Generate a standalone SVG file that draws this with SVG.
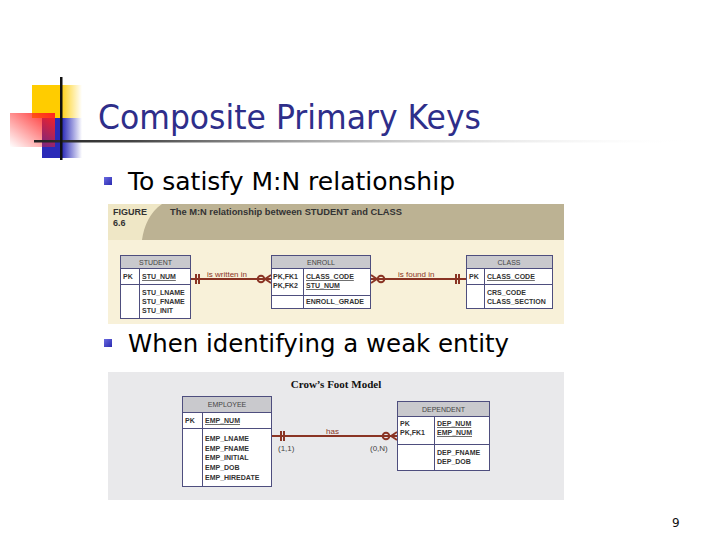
<svg xmlns="http://www.w3.org/2000/svg" width="720" height="540" viewBox="0 0 720 540">
<defs>
  <linearGradient id="gYel" x1="0" y1="0" x2="1" y2="0">
    <stop offset="0" stop-color="#ffcc00"/><stop offset="0.55" stop-color="#ffcc00"/><stop offset="1" stop-color="#ffcc00" stop-opacity="0"/>
  </linearGradient>
  <linearGradient id="gRed" x1="1" y1="0" x2="0" y2="1">
    <stop offset="0" stop-color="#ff2020"/><stop offset="1" stop-color="#ff2020" stop-opacity="0"/>
  </linearGradient>
  <linearGradient id="gBlue" x1="0" y1="0" x2="1" y2="0">
    <stop offset="0" stop-color="#2a2ab8"/><stop offset="0.5" stop-color="#2a2ab8"/><stop offset="1" stop-color="#2a2ab8" stop-opacity="0"/>
  </linearGradient>
  <linearGradient id="gLine" x1="0" y1="0" x2="1" y2="0">
    <stop offset="0" stop-color="#222"/><stop offset="0.15" stop-color="#444"/><stop offset="1" stop-color="#fff" stop-opacity="0"/>
  </linearGradient>
  <linearGradient id="gBul" x1="0" y1="0" x2="1" y2="1">
    <stop offset="0" stop-color="#6a6ae0"/><stop offset="1" stop-color="#2a2ab0"/>
  </linearGradient>
</defs>
<style>
  .title{font-family:"DejaVu Sans",sans-serif;font-size:33px;fill:#2e2e8a}
  .bul{font-family:"DejaVu Sans",sans-serif;font-size:25px;fill:#000}
  .tbl{fill:#fff;stroke:#4e4e7e;stroke-width:1}
  .hdr{fill:#c9c9cd;stroke:#4e4e7e;stroke-width:1}
  .sep{stroke:#4e4e7e;stroke-width:1}
  .t{font-family:"Liberation Sans",Arial,sans-serif;font-size:7px;fill:#333;font-weight:bold}
  .th{font-family:"Liberation Sans",Arial,sans-serif;font-size:7px;fill:#444}
  .rel{stroke:#8a3424;stroke-width:2;fill:none}
  .rl{font-family:"Liberation Sans",Arial,sans-serif;font-size:8px;fill:#8a3424}
  .card{font-family:"Liberation Sans",Arial,sans-serif;font-size:8px;fill:#444}
  .fig{font-family:"Liberation Sans",Arial,sans-serif;font-size:9px;fill:#333;font-weight:bold}
</style>
<rect width="720" height="540" fill="#fff"/>

<g id="title-deco">
  <rect x="32" y="85" width="50" height="33" fill="url(#gYel)"/>
  <rect x="42" y="118" width="40" height="40" fill="url(#gBlue)"/>
  <rect x="10" y="113" width="45" height="34" fill="url(#gRed)"/>
  <rect x="34" y="140" width="660" height="2.5" fill="url(#gLine)"/>
  <rect x="60" y="77" width="2.5" height="83" fill="#111"/>
</g>
<text class="title" x="98" y="129" textLength="383" lengthAdjust="spacingAndGlyphs">Composite Primary Keys</text>

<rect x="104" y="177" width="8" height="8" fill="url(#gBul)"/>
<text class="bul" x="128" y="190" textLength="327" lengthAdjust="spacingAndGlyphs">To satisfy M:N relationship</text>
<rect x="104" y="339" width="8" height="8" fill="url(#gBul)"/>
<text class="bul" x="128" y="352" textLength="381" lengthAdjust="spacingAndGlyphs">When identifying a weak entity</text>

<g id="figure1">
  <rect x="108" y="204" width="456" height="120" fill="#f8f1d9"/>
  <rect x="108" y="204" width="456" height="36" fill="#bcb293"/>
  <path d="M108,204 H162 C150,212 144,226 142,240 H108 Z" fill="#efe7c6"/>
  <text class="fig" x="113" y="215">FIGURE</text>
  <text class="fig" x="113" y="226">6.6</text>
  <text class="fig" x="170" y="215" textLength="232" lengthAdjust="spacingAndGlyphs">The M:N relationship between STUDENT and CLASS</text>
</g>

<g id="figure2-bg">
  <rect x="108" y="372" width="456" height="128" fill="#e9e9eb"/>
  <text x="336" y="388" text-anchor="middle" font-family="Liberation Serif,serif" font-size="11" font-weight="bold" fill="#111">Crow’s Foot Model</text>
</g>

<g id="connectors">
  <line class="rel" x1="190" y1="279" x2="271" y2="279"/>
  <line class="rel" x1="196" y1="274" x2="196" y2="284" stroke-width="1.5"/>
  <line class="rel" x1="199" y1="274" x2="199" y2="284" stroke-width="1.5"/>
  <circle class="rel" cx="261" cy="279" r="3.3" fill="#f8f1d9" stroke-width="1.5"/>
  <path class="rel" d="M265,279 L271,275 M265,279 L271,283" stroke-width="1.5"/>
  <text class="rl" x="207" y="277">is written in</text>

  <line class="rel" x1="371" y1="279" x2="466" y2="279"/>
  <path class="rel" d="M377,279 L371,275 M377,279 L371,283" stroke-width="1.5"/>
  <circle class="rel" cx="381" cy="279" r="3.3" fill="#f8f1d9" stroke-width="1.5"/>
  <line class="rel" x1="456" y1="274" x2="456" y2="284" stroke-width="1.5"/>
  <line class="rel" x1="459" y1="274" x2="459" y2="284" stroke-width="1.5"/>
  <text class="rl" x="398" y="277">is found in</text>

  <line class="rel" x1="271" y1="436" x2="397" y2="436"/>
  <line class="rel" x1="281" y1="431" x2="281" y2="441" stroke-width="1.5"/>
  <line class="rel" x1="284" y1="431" x2="284" y2="441" stroke-width="1.5"/>
  <circle class="rel" cx="386" cy="436" r="3.3" fill="#e9e9eb" stroke-width="1.5"/>
  <path class="rel" d="M391,436 L397,432 M391,436 L397,440" stroke-width="1.5"/>
  <text class="rl" x="326" y="434">has</text>
  <text class="card" x="278" y="451">(1,1)</text>
  <text class="card" x="370" y="451">(0,N)</text>
</g>

<g id="student">
  <rect class="tbl" x="120.5" y="255.5" width="70" height="63"/>
  <rect class="hdr" x="120.5" y="255.5" width="70" height="13"/>
  <line class="sep" x1="120.5" y1="284.5" x2="190.5" y2="284.5"/>
  <line class="sep" x1="139.5" y1="268.5" x2="139.5" y2="318.5"/>
  <text class="th" x="155.5" y="264.5" text-anchor="middle">STUDENT</text>
  <text class="t" x="123" y="279">PK</text>
  <text class="t" x="142" y="279" text-decoration="underline">STU_NUM</text>
  <text class="t" x="142" y="295">STU_LNAME</text>
  <text class="t" x="142" y="304">STU_FNAME</text>
  <text class="t" x="142" y="313">STU_INIT</text>
</g>

<g id="enroll">
  <rect class="tbl" x="271.5" y="255.5" width="99" height="53"/>
  <rect class="hdr" x="271.5" y="255.5" width="99" height="13"/>
  <line class="sep" x1="271.5" y1="295.5" x2="370.5" y2="295.5"/>
  <line class="sep" x1="303.5" y1="268.5" x2="303.5" y2="308.5"/>
  <text class="th" x="321" y="264.5" text-anchor="middle">ENROLL</text>
  <text class="t" x="273" y="279">PK,FK1</text>
  <text class="t" x="273" y="288">PK,FK2</text>
  <text class="t" x="306" y="279" text-decoration="underline">CLASS_CODE</text>
  <text class="t" x="306" y="288" text-decoration="underline">STU_NUM</text>
  <text class="t" x="306" y="304">ENROLL_GRADE</text>
</g>

<g id="class">
  <rect class="tbl" x="466.5" y="255.5" width="86" height="53"/>
  <rect class="hdr" x="466.5" y="255.5" width="86" height="13"/>
  <line class="sep" x1="466.5" y1="284.5" x2="552.5" y2="284.5"/>
  <line class="sep" x1="484.5" y1="268.5" x2="484.5" y2="308.5"/>
  <text class="th" x="509" y="264.5" text-anchor="middle">CLASS</text>
  <text class="t" x="469" y="279">PK</text>
  <text class="t" x="487" y="279" text-decoration="underline">CLASS_CODE</text>
  <text class="t" x="487" y="295">CRS_CODE</text>
  <text class="t" x="487" y="304">CLASS_SECTION</text>
</g>

<g id="employee">
  <rect class="tbl" x="182.5" y="396.5" width="89" height="90"/>
  <rect class="hdr" x="182.5" y="396.5" width="89" height="16"/>
  <line class="sep" x1="182.5" y1="428.5" x2="271.5" y2="428.5"/>
  <line class="sep" x1="202.5" y1="412.5" x2="202.5" y2="486.5"/>
  <text class="th" x="227" y="407" text-anchor="middle">EMPLOYEE</text>
  <text class="t" x="185" y="423">PK</text>
  <text class="t" x="205" y="423" text-decoration="underline">EMP_NUM</text>
  <text class="t" x="205" y="441">EMP_LNAME</text>
  <text class="t" x="205" y="451">EMP_FNAME</text>
  <text class="t" x="205" y="460">EMP_INITIAL</text>
  <text class="t" x="205" y="470">EMP_DOB</text>
  <text class="t" x="205" y="480">EMP_HIREDATE</text>
</g>

<g id="dependent">
  <rect class="tbl" x="397.5" y="401.5" width="92" height="69"/>
  <rect class="hdr" x="397.5" y="401.5" width="92" height="15"/>
  <line class="sep" x1="397.5" y1="444.5" x2="489.5" y2="444.5"/>
  <line class="sep" x1="434.5" y1="416.5" x2="434.5" y2="470.5"/>
  <text class="th" x="443.5" y="411.5" text-anchor="middle">DEPENDENT</text>
  <text class="t" x="400" y="426">PK</text>
  <text class="t" x="400" y="435">PK,FK1</text>
  <text class="t" x="437" y="426" text-decoration="underline">DEP_NUM</text>
  <text class="t" x="437" y="435" text-decoration="underline">EMP_NUM</text>
  <text class="t" x="437" y="455">DEP_FNAME</text>
  <text class="t" x="437" y="464">DEP_DOB</text>
</g>

<text x="672" y="527" font-family="DejaVu Sans,sans-serif" font-size="12" fill="#111">9</text>
</svg>
